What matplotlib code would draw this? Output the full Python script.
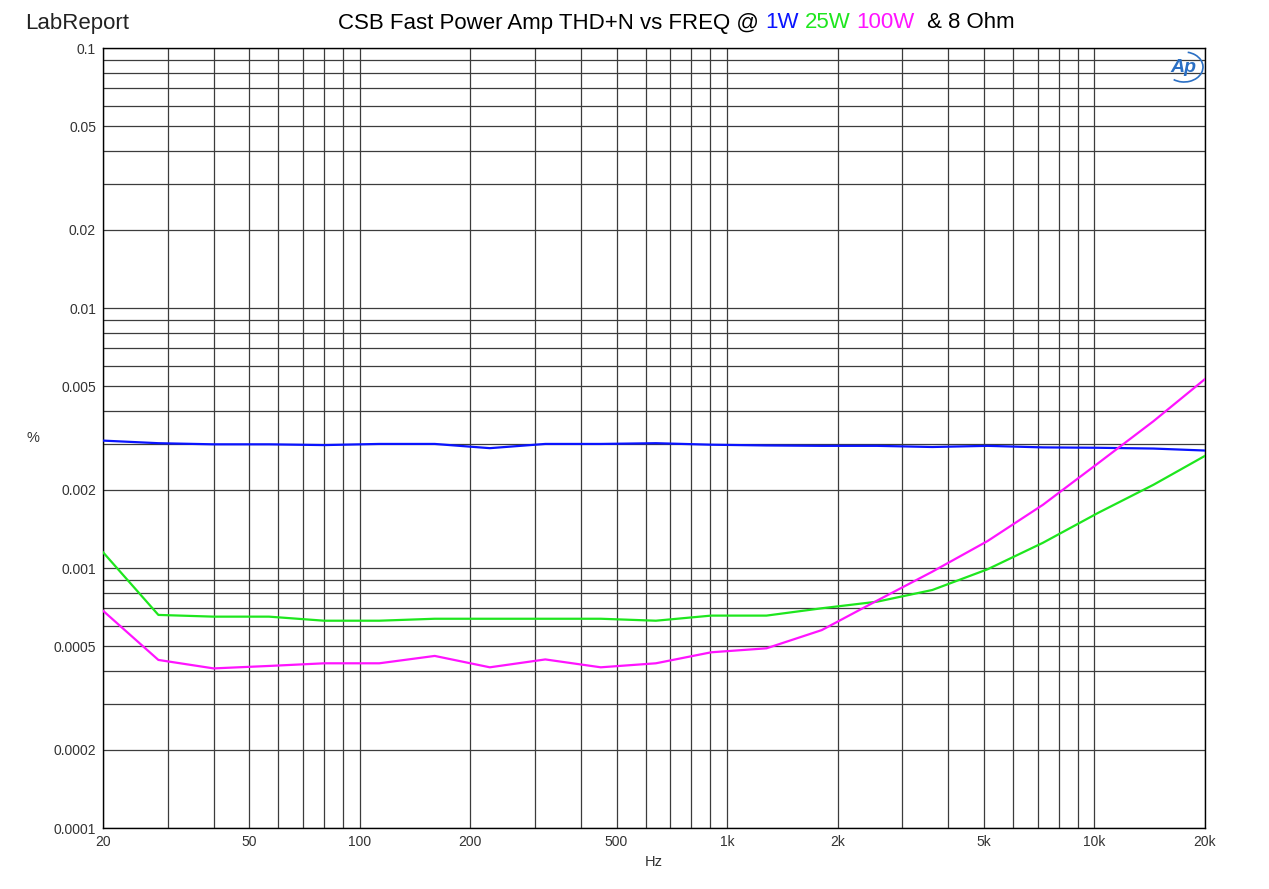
import numpy as np
import matplotlib
matplotlib.use("Agg")
import matplotlib.pyplot as plt
from matplotlib.ticker import FixedLocator, FixedFormatter, NullFormatter
from matplotlib.patches import Arc

plt.rcParams['font.family'] = ['Liberation Sans', 'DejaVu Sans']

# frequency points (1/2 octave sweep)
freq = [20, 28.3, 40, 56.6, 80, 113, 160, 226, 320, 453, 640, 905, 1280,
        1810, 2560, 3620, 5120, 7240, 10240, 14480, 20000]

thd_1w = [0.00309, 0.00302, 0.00299, 0.00299, 0.00297, 0.00300, 0.00300,
          0.00289, 0.00300, 0.00300, 0.00302, 0.00298, 0.00296, 0.00295,
          0.00295, 0.00292, 0.00295, 0.00291, 0.00290, 0.00288, 0.00283]

thd_25w = [0.00115, 0.00066, 0.00065, 0.00065, 0.000627, 0.000627, 0.000638,
           0.000638, 0.000638, 0.000638, 0.000627, 0.000656, 0.000656, 0.00070,
           0.000742, 0.000823, 0.000989, 0.00125, 0.00163, 0.00209, 0.00270]

thd_100w = [0.000685, 0.000443, 0.000411, 0.00042, 0.00043, 0.00043, 0.000459,
            0.000415, 0.000445, 0.000415, 0.00043, 0.000474, 0.000491, 0.000577,
            0.000749, 0.000968, 0.00127, 0.00175, 0.00253, 0.00367, 0.00533]

x_major = [20, 50, 100, 200, 500, 1000, 2000, 5000, 10000, 20000]
x_labels = ['20', '50', '100', '200', '500', '1k', '2k', '5k', '10k', '20k']
y_major = [0.0001, 0.0002, 0.0005, 0.001, 0.002, 0.005, 0.01, 0.02, 0.05, 0.1]
y_labels = ['0.0001', '0.0002', '0.0005', '0.001', '0.002', '0.005',
            '0.01', '0.02', '0.05', '0.1']

W, H = 1269, 889
fig = plt.figure(figsize=(W / 100, H / 100), dpi=100)
ax = fig.add_axes([103 / W, 1 - 828 / H, (1205 - 103) / W, (828 - 48) / H])

ax.plot(freq, thd_1w, color='#0a14ff', lw=1.6, zorder=3)
ax.plot(freq, thd_25w, color='#1ee61e', lw=1.6, zorder=3)
ax.plot(freq, thd_100w, color='#ff14ff', lw=1.6, zorder=3)

ax.set_xscale('log')
ax.set_yscale('log')
ax.set_xlim(20, 20000)
ax.set_ylim(0.0001, 0.1)

# minor grid positions
x_minor = [m * 10 ** k for k in range(1, 5) for m in range(2, 10)
           if 20 <= m * 10 ** k <= 20000 and m * 10 ** k not in x_major]
y_minor = [m * 10.0 ** k for k in range(-4, -1) for m in range(1, 10)
           if not any(abs(m * 10.0 ** k - v) < 1e-12 for v in y_major)]

ax.xaxis.set_major_locator(FixedLocator(x_major))
ax.xaxis.set_major_formatter(FixedFormatter(x_labels))
ax.xaxis.set_minor_locator(FixedLocator(x_minor))
ax.xaxis.set_minor_formatter(NullFormatter())
ax.yaxis.set_major_locator(FixedLocator(y_major))
ax.yaxis.set_major_formatter(FixedFormatter(y_labels))
ax.yaxis.set_minor_locator(FixedLocator(y_minor))
ax.yaxis.set_minor_formatter(NullFormatter())

ax.grid(which='both', color='#3c3c3c', lw=0.9)
ax.tick_params(which='major', length=0, labelsize=10, colors='#333333', pad=5)
ax.tick_params(which='minor', length=0)
for s in ax.spines.values():
    s.set_color('black')
    s.set_linewidth(1.0)

fig.text(33 / W, 1 - 438 / H, '%', fontsize=10.5, color='#333333',
         ha='center', va='center')
fig.text(654 / W, 1 - 862 / H, 'Hz', fontsize=10.5, color='#333333',
         ha='center', va='center')
fig.text(25 / W, 1 - 23 / H, 'LabReport', fontsize=16, color='#222222',
         ha='left', va='center')

# multi-coloured title
pieces = [('CSB Fast Power Amp THD+N vs FREQ @', 'black'),
          ('1W', '#0a14ff'), ('25W', '#1ee61e'), ('100W', '#ff14ff'),
          (' & 8 Ohm', 'black')]
renderer = fig.canvas.get_renderer()
probe = fig.text(0, 0, 'x x', fontsize=16)
probe2 = fig.text(0, 0, 'xx', fontsize=16)
gap = probe.get_window_extent(renderer).width - probe2.get_window_extent(renderer).width
probe.remove()
probe2.remove()
xpos = 338
for txt, col in pieces:
    t = fig.text(xpos / W, 1 - 23 / H, txt, fontsize=16, color=col,
                 ha='left', va='center')
    xpos = t.get_window_extent(renderer).x1 + gap

# Ap logo
fig.text(1183 / W, 1 - 67 / H, 'Ap', fontsize=14, color='#2a6fc4',
         style='italic', weight='bold', ha='center', va='center')
arc = Arc((1184 / W, 1 - 67 / H), 38 / W, 30 / H, theta1=-120, theta2=80,
          transform=fig.transFigure, color='#2a6fc4', lw=1.2)
fig.add_artist(arc)

fig.savefig('out.png', dpi=100)
